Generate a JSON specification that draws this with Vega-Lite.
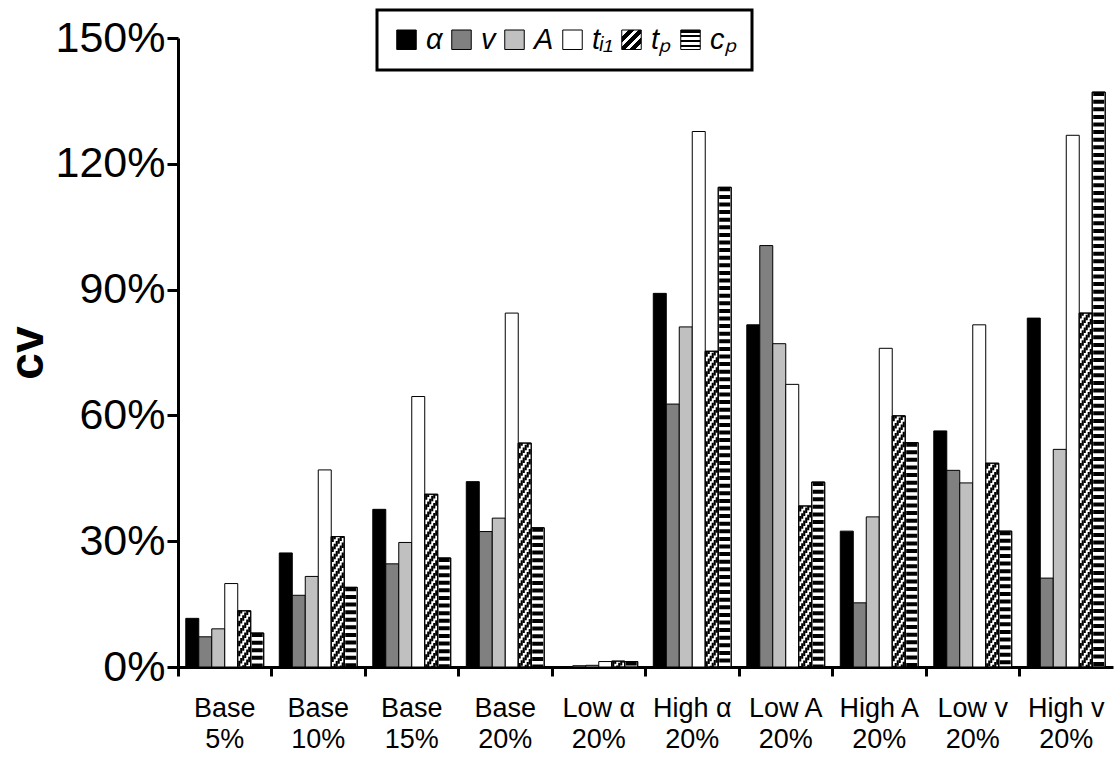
{
  "$schema": "https://vega.github.io/schema/vega-lite/v6.json",
  "width": 935,
  "height": 629,
  "autosize": {"type": "none"},
  "padding": {"left": 178, "top": 38, "right": 5, "bottom": 91},
  "background": "white",
  "config": {
    "view": {"stroke": null},
    "axis": {"grid": false},
    "legend": {"strokeWidth": 3}
  },
  "data": {
    "values": [
      {"g": "Base|5%", "s": "a", "cv": 0.116}, {"g": "Base|5%", "s": "v", "cv": 0.072}, {"g": "Base|5%", "s": "A", "cv": 0.091}, {"g": "Base|5%", "s": "ti1", "cv": 0.199}, {"g": "Base|5%", "s": "tp", "cv": 0.134}, {"g": "Base|5%", "s": "cp", "cv": 0.081},
      {"g": "Base|10%", "s": "a", "cv": 0.272}, {"g": "Base|10%", "s": "v", "cv": 0.171}, {"g": "Base|10%", "s": "A", "cv": 0.216}, {"g": "Base|10%", "s": "ti1", "cv": 0.470}, {"g": "Base|10%", "s": "tp", "cv": 0.311}, {"g": "Base|10%", "s": "cp", "cv": 0.190},
      {"g": "Base|15%", "s": "a", "cv": 0.376}, {"g": "Base|15%", "s": "v", "cv": 0.246}, {"g": "Base|15%", "s": "A", "cv": 0.297}, {"g": "Base|15%", "s": "ti1", "cv": 0.645}, {"g": "Base|15%", "s": "tp", "cv": 0.412}, {"g": "Base|15%", "s": "cp", "cv": 0.260},
      {"g": "Base|20%", "s": "a", "cv": 0.442}, {"g": "Base|20%", "s": "v", "cv": 0.323}, {"g": "Base|20%", "s": "A", "cv": 0.355}, {"g": "Base|20%", "s": "ti1", "cv": 0.844}, {"g": "Base|20%", "s": "tp", "cv": 0.534}, {"g": "Base|20%", "s": "cp", "cv": 0.332},
      {"g": "Low α|20%", "s": "a", "cv": 0.001}, {"g": "Low α|20%", "s": "v", "cv": 0.003}, {"g": "Low α|20%", "s": "A", "cv": 0.004}, {"g": "Low α|20%", "s": "ti1", "cv": 0.013}, {"g": "Low α|20%", "s": "tp", "cv": 0.014}, {"g": "Low α|20%", "s": "cp", "cv": 0.013},
      {"g": "High α|20%", "s": "a", "cv": 0.891}, {"g": "High α|20%", "s": "v", "cv": 0.627}, {"g": "High α|20%", "s": "A", "cv": 0.811}, {"g": "High α|20%", "s": "ti1", "cv": 1.277}, {"g": "High α|20%", "s": "tp", "cv": 0.753}, {"g": "High α|20%", "s": "cp", "cv": 1.144},
      {"g": "Low A|20%", "s": "a", "cv": 0.816}, {"g": "Low A|20%", "s": "v", "cv": 1.005}, {"g": "Low A|20%", "s": "A", "cv": 0.771}, {"g": "Low A|20%", "s": "ti1", "cv": 0.674}, {"g": "Low A|20%", "s": "tp", "cv": 0.384}, {"g": "Low A|20%", "s": "cp", "cv": 0.441},
      {"g": "High A|20%", "s": "a", "cv": 0.324}, {"g": "High A|20%", "s": "v", "cv": 0.153}, {"g": "High A|20%", "s": "A", "cv": 0.358}, {"g": "High A|20%", "s": "ti1", "cv": 0.760}, {"g": "High A|20%", "s": "tp", "cv": 0.599}, {"g": "High A|20%", "s": "cp", "cv": 0.535},
      {"g": "Low v|20%", "s": "a", "cv": 0.563}, {"g": "Low v|20%", "s": "v", "cv": 0.469}, {"g": "Low v|20%", "s": "A", "cv": 0.439}, {"g": "Low v|20%", "s": "ti1", "cv": 0.816}, {"g": "Low v|20%", "s": "tp", "cv": 0.486}, {"g": "Low v|20%", "s": "cp", "cv": 0.324},
      {"g": "High v|20%", "s": "a", "cv": 0.832}, {"g": "High v|20%", "s": "v", "cv": 0.212}, {"g": "High v|20%", "s": "A", "cv": 0.519}, {"g": "High v|20%", "s": "ti1", "cv": 1.268}, {"g": "High v|20%", "s": "tp", "cv": 0.844}, {"g": "High v|20%", "s": "cp", "cv": 1.371}
    ]
  },
  "encoding": {
    "x": {
      "field": "g", "type": "nominal", "sort": null,
      "scale": {"paddingInner": 0, "paddingOuter": 0},
      "axis": {
        "title": null, "labelAngle": 0, "labelExpr": "split(datum.label, '|')",
        "labelFont": "Liberation Sans", "labelFontSize": 27, "labelLineHeight": 31, "labelColor": "black",
        "labelPadding": 19, "bandPosition": 0, "tickSize": 9, "tickWidth": 3, "tickColor": "black",
        "domainWidth": 3, "domainColor": "black"
      }
    },
    "y": {
      "field": "cv", "type": "quantitative",
      "scale": {"domain": [0, 1.5], "nice": false},
      "axis": {
        "title": "cv", "titleFont": "Liberation Sans", "titleFontSize": 48, "titleFontWeight": "bold", "titleColor": "black", "titlePadding": 3,
        "values": [0, 0.3, 0.6, 0.9, 1.2, 1.5], "format": ".0%",
        "labelFont": "Liberation Sans", "labelFontSize": 43, "labelColor": "black", "labelPadding": 2,
        "tickSize": 11, "tickWidth": 3, "tickColor": "black", "domainWidth": 3, "domainColor": "black"
      }
    }
  },
  "layer": [
    {
      "mark": {"type": "bar", "stroke": "black", "strokeWidth": 1},
      "encoding": {
        "xOffset": {"field": "s", "type": "nominal", "scale": {"domain": ["a", "v", "A", "ti1", "tp", "cp"], "paddingInner": 0, "paddingOuter": 0.6}},
        "fill": {
          "field": "s", "type": "nominal",
          "condition": {"test": "datum.s === 'tp' || datum.s === 'cp'", "value": "white"},
          "scale": {
            "domain": ["a", "v", "A", "ti1", "tp", "cp"],
            "range": [
              "#000000", "#808080", "#c0c0c0", "#ffffff",
              {"expr": "{gradient: 'linear', x1: 0, y1: 0, x2: 1, y2: 1, stops: [{offset: 0, color: '#ffffff'}, {offset: 0.17, color: '#ffffff'}, {offset: 0.17, color: '#000000'}, {offset: 0.32, color: '#000000'}, {offset: 0.32, color: '#ffffff'}, {offset: 0.43, color: '#ffffff'}, {offset: 0.43, color: '#000000'}, {offset: 0.58, color: '#000000'}, {offset: 0.58, color: '#ffffff'}, {offset: 0.68, color: '#ffffff'}, {offset: 0.68, color: '#000000'}, {offset: 0.83, color: '#000000'}, {offset: 0.83, color: '#ffffff'}, {offset: 1, color: '#ffffff'}]}"},
              {"expr": "{gradient: 'linear', x1: 0, y1: 0, x2: 0, y2: 1, stops: [{offset: 0, color: '#000000'}, {offset: 0.13, color: '#000000'}, {offset: 0.13, color: '#ffffff'}, {offset: 0.25, color: '#ffffff'}, {offset: 0.25, color: '#000000'}, {offset: 0.38, color: '#000000'}, {offset: 0.38, color: '#ffffff'}, {offset: 0.5, color: '#ffffff'}, {offset: 0.5, color: '#000000'}, {offset: 0.63, color: '#000000'}, {offset: 0.63, color: '#ffffff'}, {offset: 0.75, color: '#ffffff'}, {offset: 0.75, color: '#000000'}, {offset: 0.88, color: '#000000'}, {offset: 0.88, color: '#ffffff'}, {offset: 1, color: '#ffffff'}]}"}
            ]
          },
          "legend": {
            "orient": "none", "legendX": 199, "legendY": -28, "direction": "horizontal", "title": null,
            "symbolType": "square", "symbolSize": 380, "symbolStrokeColor": "black", "symbolStrokeWidth": 1, "symbolOpacity": 1,
            "labelFont": "Liberation Sans", "labelFontSize": 29, "labelFontStyle": "italic", "labelColor": "black",
            "labelOffset": 5, "columnPadding": 4, "padding": 15, "strokeColor": "black",
            "labelExpr": "{'a': 'α', 'v': 'v', 'A': 'A', 'ti1': 'tᵢ₁', 'tp': 'tₚ', 'cp': 'cₚ'}[datum.label]"
          }
        }
      }
    },
    {
      "transform": [{"filter": "datum.s === 'cp'"}],
      "mark": {"type": "rule", "color": "black", "strokeWidth": 11, "strokeDash": [4, 3.6]},
      "encoding": {
        "xOffset": {"field": "s", "type": "nominal", "scale": {"domain": ["a", "v", "A", "ti1", "tp", "cp"], "paddingInner": 0, "paddingOuter": 0.6}},
        "y2": {"datum": 0}
      }
    },
    {
      "transform": [{"filter": "datum.s === 'tp'"}],
      "encoding": {"y2": {"datum": 0}},
      "layer": [
        {"mark": {"type": "rule", "color": "black", "strokeWidth": 2.1, "strokeDash": [5.5, 4.5], "strokeDashOffset": 0},
         "encoding": {"xOffset": {"field": "s", "type": "nominal", "scale": {"domain": ["a", "v", "A", "ti1", "tp", "cp"], "paddingInner": 0, "paddingOuter": 0.6, "align": 0.179}}}},
        {"mark": {"type": "rule", "color": "black", "strokeWidth": 2.1, "strokeDash": [5.5, 4.5], "strokeDashOffset": 2.8},
         "encoding": {"xOffset": {"field": "s", "type": "nominal", "scale": {"domain": ["a", "v", "A", "ti1", "tp", "cp"], "paddingInner": 0, "paddingOuter": 0.6, "align": 0.307}}}},
        {"mark": {"type": "rule", "color": "black", "strokeWidth": 2.1, "strokeDash": [5.5, 4.5], "strokeDashOffset": 5.6},
         "encoding": {"xOffset": {"field": "s", "type": "nominal", "scale": {"domain": ["a", "v", "A", "ti1", "tp", "cp"], "paddingInner": 0, "paddingOuter": 0.6, "align": 0.436}}}},
        {"mark": {"type": "rule", "color": "black", "strokeWidth": 2.1, "strokeDash": [5.5, 4.5], "strokeDashOffset": 8.4},
         "encoding": {"xOffset": {"field": "s", "type": "nominal", "scale": {"domain": ["a", "v", "A", "ti1", "tp", "cp"], "paddingInner": 0, "paddingOuter": 0.6, "align": 0.564}}}},
        {"mark": {"type": "rule", "color": "black", "strokeWidth": 2.1, "strokeDash": [5.5, 4.5], "strokeDashOffset": 11.2},
         "encoding": {"xOffset": {"field": "s", "type": "nominal", "scale": {"domain": ["a", "v", "A", "ti1", "tp", "cp"], "paddingInner": 0, "paddingOuter": 0.6, "align": 0.693}}}},
        {"mark": {"type": "rule", "color": "black", "strokeWidth": 2.1, "strokeDash": [5.5, 4.5], "strokeDashOffset": 14.0},
         "encoding": {"xOffset": {"field": "s", "type": "nominal", "scale": {"domain": ["a", "v", "A", "ti1", "tp", "cp"], "paddingInner": 0, "paddingOuter": 0.6, "align": 0.821}}}}
      ],
      "resolve": {"scale": {"xOffset": "independent"}}
    },
    {
      "transform": [{"filter": "datum.s === 'tp' || datum.s === 'cp'"}],
      "mark": {"type": "bar", "fill": "transparent", "stroke": "black", "strokeWidth": 1},
      "encoding": {
        "xOffset": {"field": "s", "type": "nominal", "scale": {"domain": ["a", "v", "A", "ti1", "tp", "cp"], "paddingInner": 0, "paddingOuter": 0.6}}
      }
    }
  ],
  "resolve": {"scale": {"xOffset": "independent"}}
}
